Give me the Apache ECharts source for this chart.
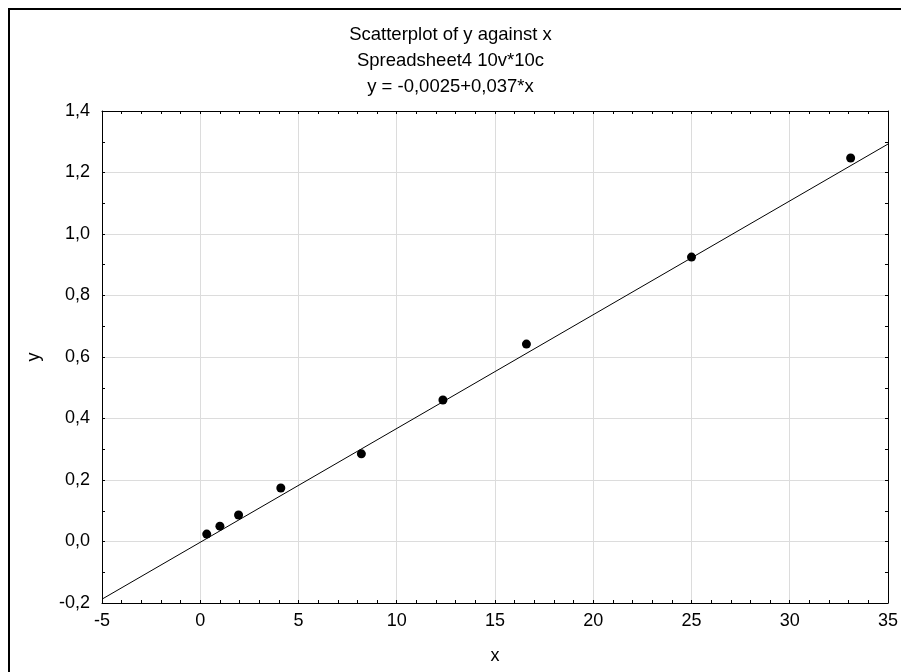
<!DOCTYPE html>
<html>
<head>
<meta charset="utf-8">
<script src="https://cdn.jsdelivr.net/npm/echarts@6/dist/echarts.min.js"></script>
<style>
  html, body { margin: 0; padding: 0; background: #fff; }
  #main { width: 901px; height: 672px; }
</style>
</head>
<body>
<div id="main"></div>
<script>
// measured points
var xValues = [0.33, 1, 1.95, 4.1, 8.2, 12.35, 16.6, 25, 33.1];
var yValues = [0.024, 0.05, 0.086, 0.174, 0.285, 0.46, 0.642, 0.925, 1.247];

// fitted line y = -0,0025+0,037*x, end points at the axis limits
var fitX = [-5, 35];
var fitY = [-0.1875, 1.2925];

var titleLines = ['Scatterplot of y against x', 'Spreadsheet4 10v*10c', 'y = -0,0025+0,037*x'];

var chart = echarts.init(document.getElementById('main'), null, { renderer: 'canvas' });

var font = '"Liberation Sans", Arial, sans-serif';

function commaLabel(v) {
  return v.toFixed(1).replace('.', ',');
}

var axisCommon = {
  type: 'value',
  axisLine: { onZero: false, lineStyle: { color: '#000', width: 1 } },
  axisTick: { inside: true, length: 3, lineStyle: { color: '#000' } },
  minorTick: { show: true, length: 3, lineStyle: { color: '#000' } },
  axisLabel: { color: '#000', fontSize: 18, fontFamily: font },
  splitLine: { show: true, lineStyle: { color: '#dcdcdc', width: 1 } }
};

var scatterData = xValues.map(function (x, i) { return [x, yValues[i]]; });
var fitData = fitX.map(function (x, i) { return [x, fitY[i]]; });

var option = {
  backgroundColor: '#fff',
  animation: false,
  title: titleLines.map(function (t, i) {
    return {
      text: t,
      left: 'center',
      top: 20 + i * 26,
      textStyle: { color: '#000', fontSize: 18.5, fontWeight: 'normal', fontFamily: font }
    };
  }),
  grid: { left: 102, right: 12, top: 111, bottom: 69 },
  xAxis: [
    Object.assign({}, axisCommon, {
      min: -5, max: 35, interval: 5,
      minorTick: Object.assign({}, axisCommon.minorTick, { splitNumber: 5 }),
      axisLabel: Object.assign({}, axisCommon.axisLabel, { margin: 9 }),
      name: 'x', nameLocation: 'middle', nameGap: 44,
      nameTextStyle: { color: '#000', fontSize: 18, fontFamily: font }
    }),
    Object.assign({}, axisCommon, {
      position: 'top',
      min: -5, max: 35, interval: 5,
      minorTick: Object.assign({}, axisCommon.minorTick, { splitNumber: 5 }),
      axisLabel: { show: false },
      splitLine: { show: false }
    })
  ],
  yAxis: [
    Object.assign({}, axisCommon, {
      min: -0.2, max: 1.4, interval: 0.2,
      minorTick: Object.assign({}, axisCommon.minorTick, { splitNumber: 2 }),
      axisLabel: Object.assign({}, axisCommon.axisLabel, { margin: 12, formatter: commaLabel }),
      name: 'y', nameLocation: 'middle', nameGap: 59,
      nameTextStyle: { color: '#000', fontSize: 18, fontFamily: font }
    }),
    Object.assign({}, axisCommon, {
      position: 'right',
      min: -0.2, max: 1.4, interval: 0.2,
      minorTick: Object.assign({}, axisCommon.minorTick, { splitNumber: 2 }),
      axisLabel: { show: false },
      splitLine: { show: false }
    })
  ],
  graphic: [{
    type: 'rect',
    shape: { x: 9, y: 9, width: 1000, height: 1000 },
    style: { fill: 'none', stroke: '#000', lineWidth: 2 },
    silent: true
  }],
  series: [{
    name: 'fit',
    type: 'line',
    data: fitData,
    symbol: 'none',
    lineStyle: { color: '#000', width: 1 },
    z: 2
  }, {
    name: 'y',
    type: 'scatter',
    data: scatterData,
    symbol: 'circle',
    symbolSize: 9,
    itemStyle: { color: '#000', opacity: 1 },
    z: 3
  }]
};

chart.setOption(option);
</script>
</body>
</html>
